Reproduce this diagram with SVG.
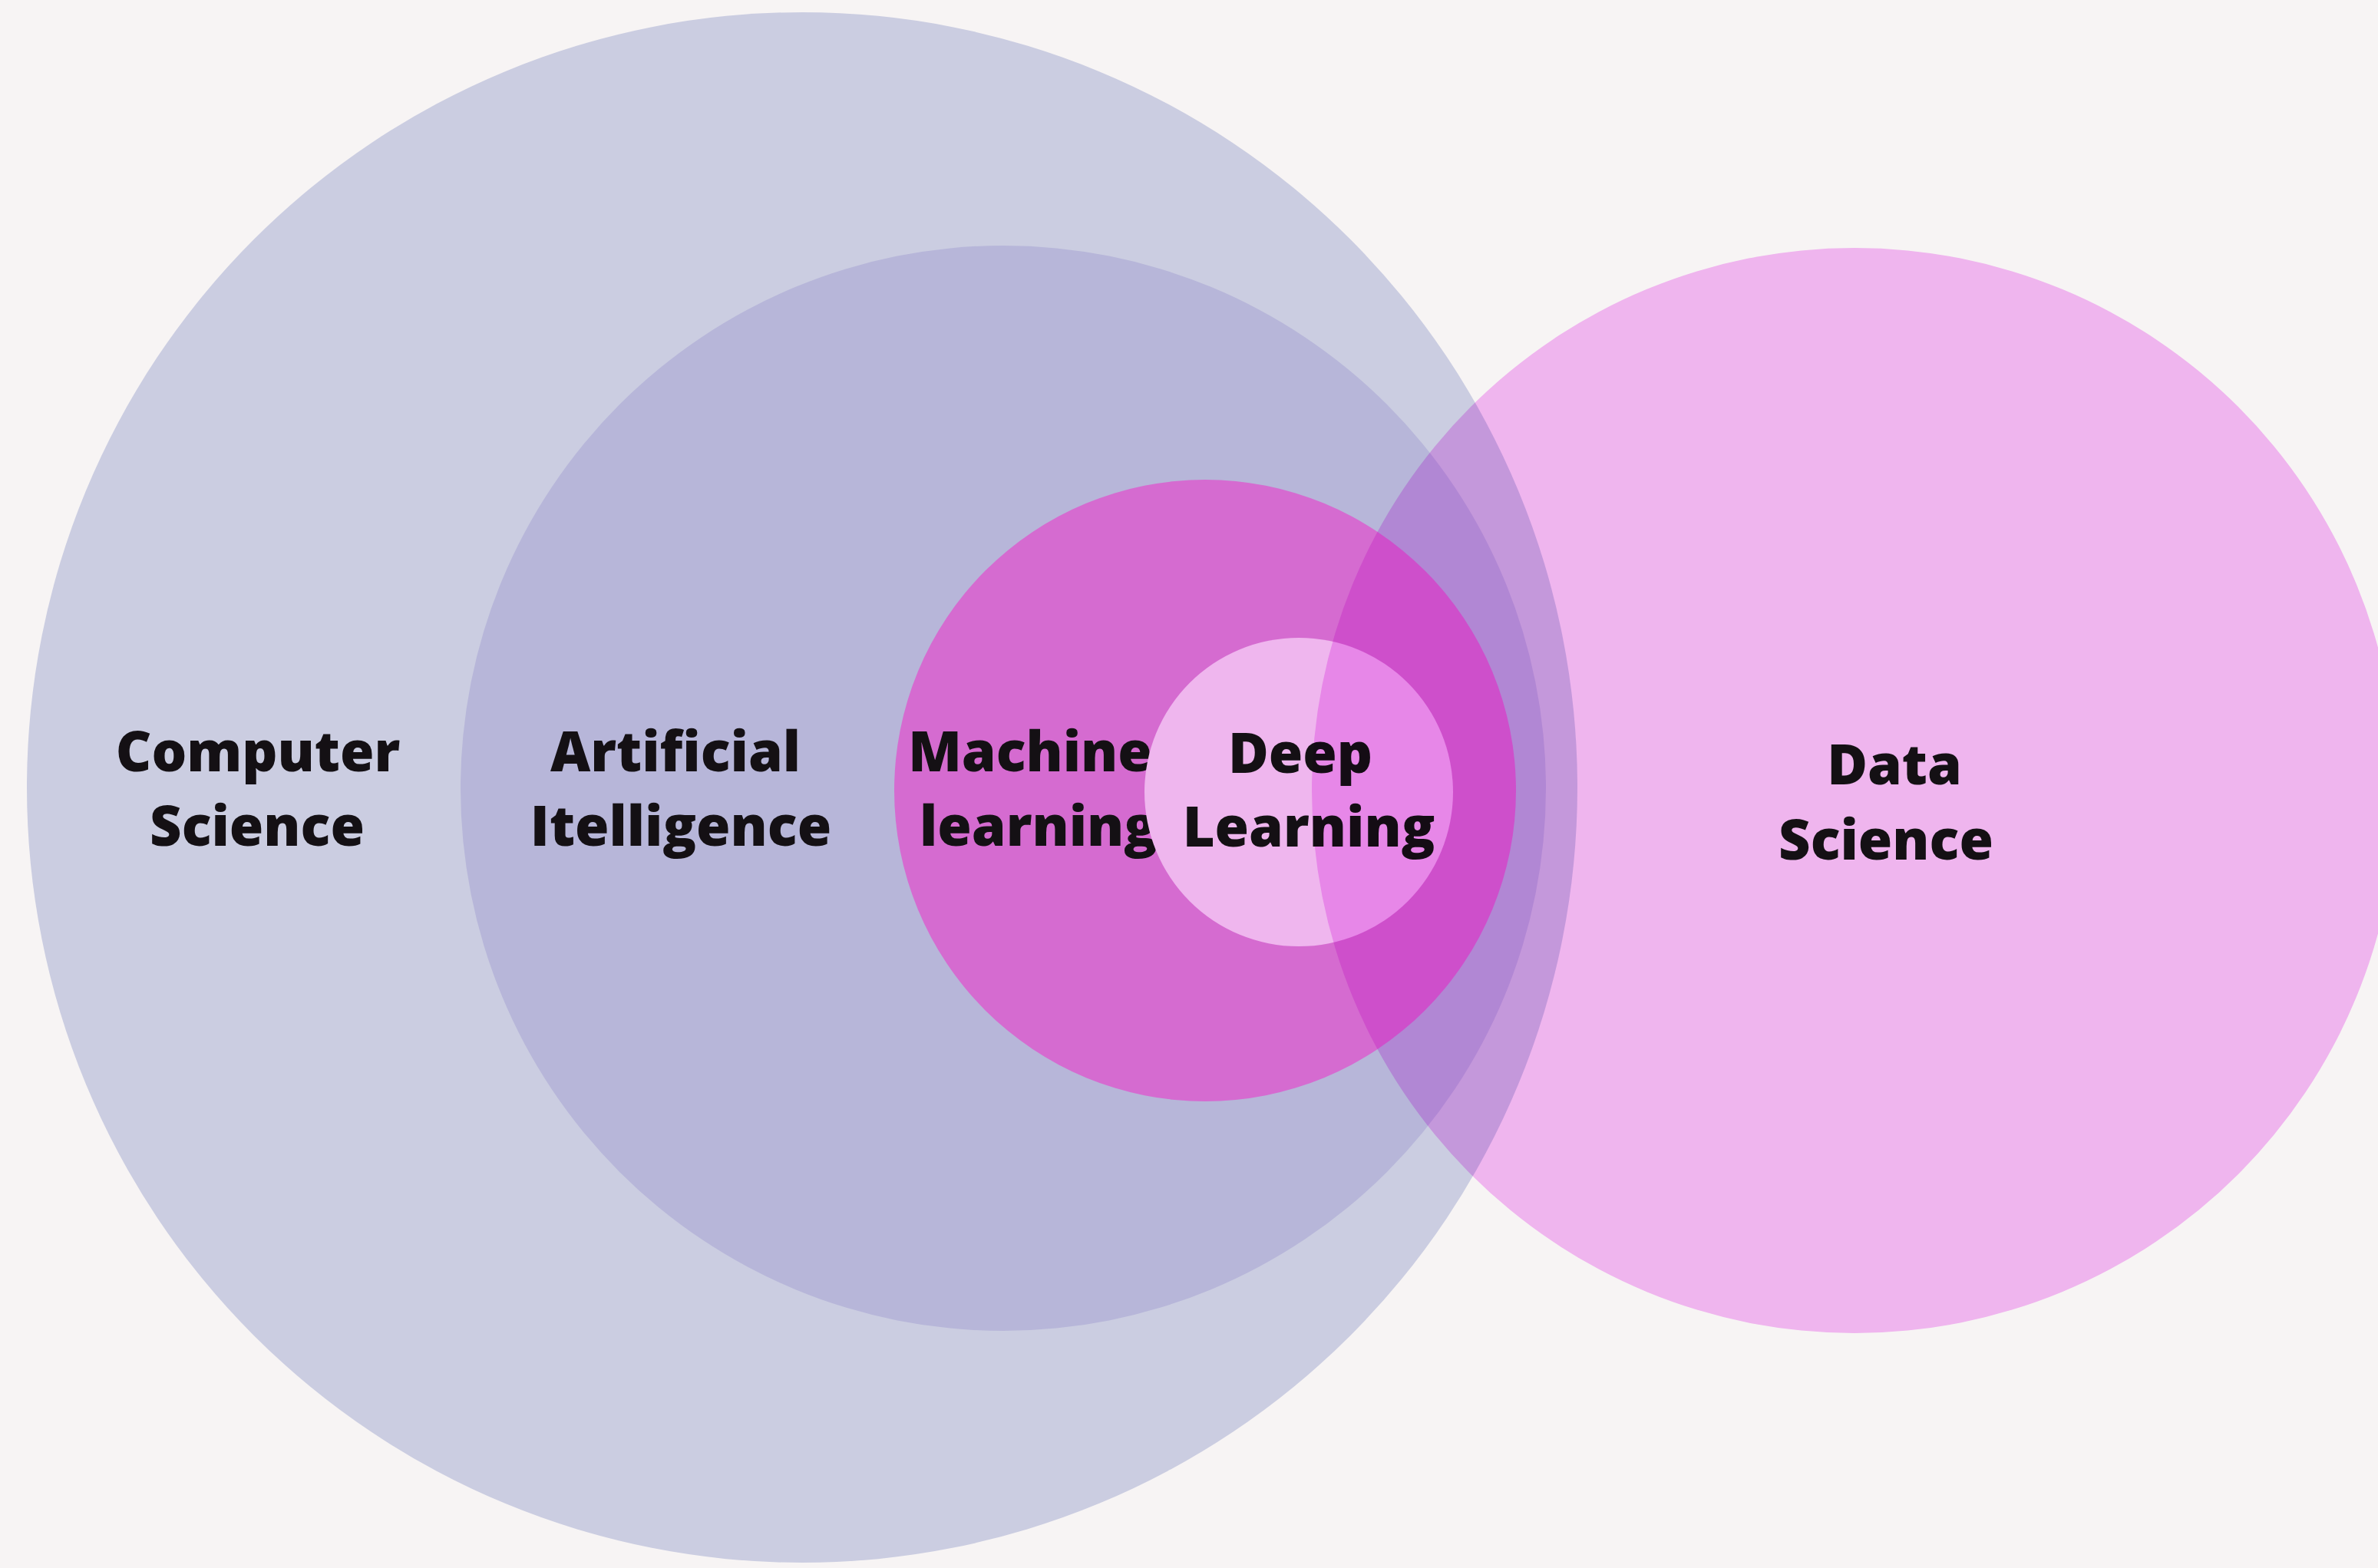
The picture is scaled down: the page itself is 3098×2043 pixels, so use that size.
<svg xmlns="http://www.w3.org/2000/svg" width="3098" height="2043" viewBox="0 0 3098 2043">
<style>
.lbl{font-family:"Open Sans","Noto Sans","Liberation Sans",sans-serif;font-weight:800;font-size:72px;fill:#141014;text-anchor:middle}
</style>
<rect x="0" y="0" width="3098" height="2043" fill="#f7f4f4"/>
<g id="computer-science">
<circle cx="1045" cy="1026" r="1010" fill="#cbcde1"/>
<text class="lbl" x="336" y="1005">Computer</text>
<text class="lbl" x="335" y="1102">Science</text>
</g>
<g id="artificial-intelligence">
<circle cx="1307" cy="1027" r="707" fill="#b7b6d9"/>
<text class="lbl" x="880" y="1005">Artificial</text>
<text class="lbl" x="887" y="1102">Itelligence</text>
</g>
<g id="machine-learning">
<circle cx="1570" cy="1030" r="405" fill="#d56bd0"/>
<text class="lbl" x="1342" y="1005">Machine</text>
<text class="lbl" x="1353" y="1102">learning</text>
</g>
<g id="deep-learning">
<circle cx="1692" cy="1032" r="201" fill="#efb6ee"/>
<text class="lbl" x="1694" y="1007">Deep</text>
<text class="lbl" x="1705" y="1103">Learning</text>
</g>
<g id="data-science" style="mix-blend-mode:multiply">
<circle cx="2416" cy="1030" r="707" fill="#f7bdf9"/>
</g>
<g id="data-science-label">
<text class="lbl" x="2468" y="1022">Data</text>
<text class="lbl" x="2457" y="1120">Science</text>
</g>
<g id="connectors"/>
</svg>
